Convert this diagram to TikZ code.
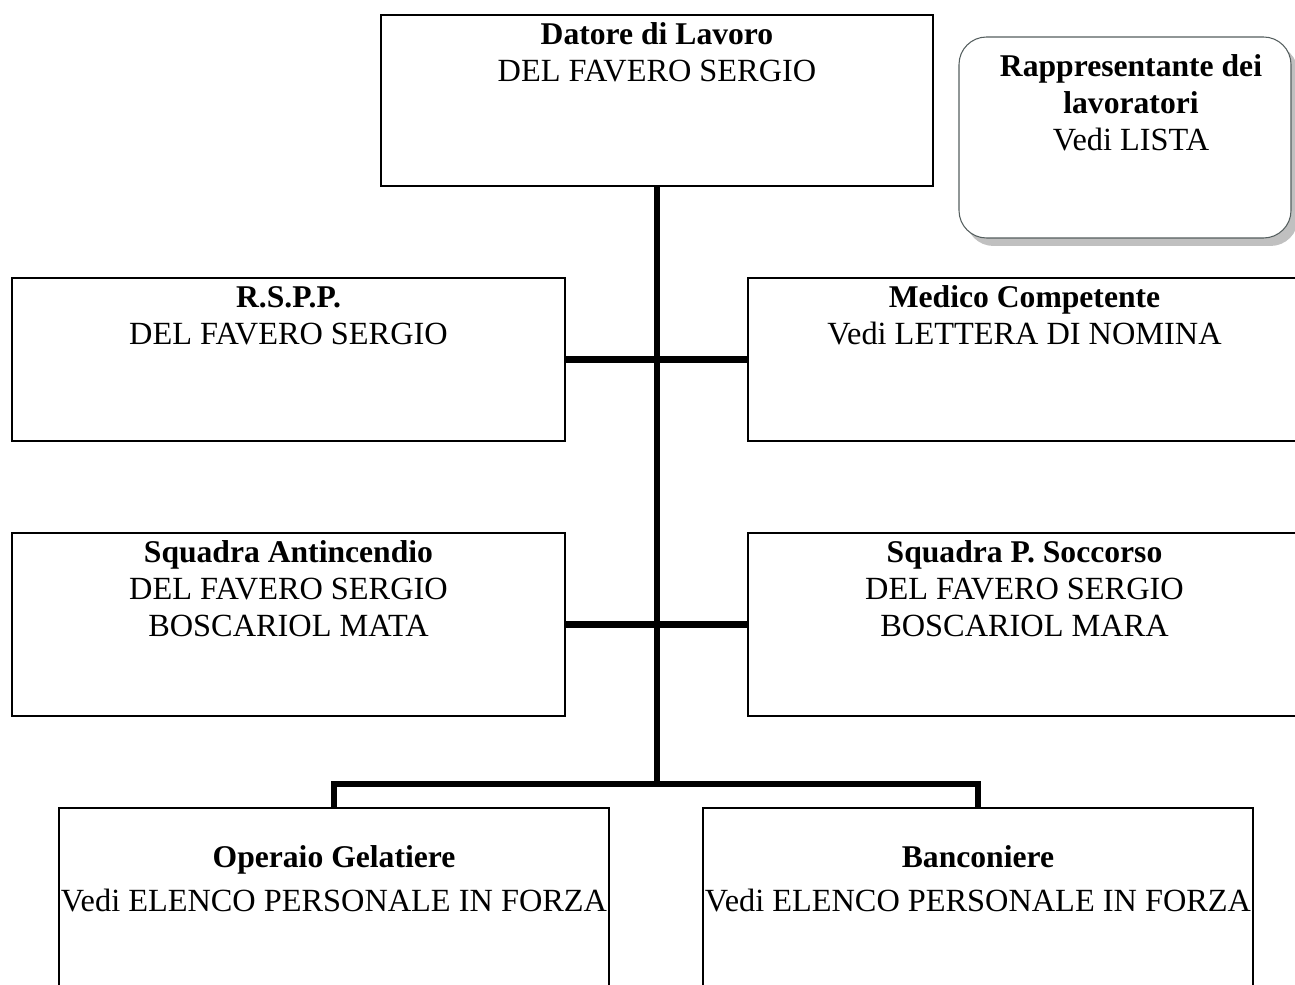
\documentclass[tikz,border=0pt]{standalone}
\usepackage{fontspec}
\setmainfont{Liberation Serif}
\usetikzlibrary{shadows}

\definecolor{repborder}{RGB}{85,95,95}
\definecolor{repshadow}{RGB}{192,192,192}

% text block of a box: width, height, gap above, lines
\newcommand{\boxtext}[4]{\parbox[c][#2][t]{#1}{\centering\vspace*{#3}\strut#4}}
% bold heading line(s) of a box
\newcommand{\boxtitle}[1]{{\fontsize{18}{21}\selectfont\bfseries #1}}

\begin{document}
\begin{tikzpicture}[
    orgbox/.style={
% The shape:
rectangle,
% The border:
      draw=black, line width=0.9pt,
      fill=white,
      inner sep=0pt,
% Font
      font=\fontsize{18.4}{21}\selectfont
    },
    repbox/.style={
      orgbox,
      draw=repborder, line width=0.6pt,
      rounded corners=0.55cm,
      % shadow at the lower right
      drop shadow={shadow xshift=0.14cm, shadow yshift=-0.16cm,
        fill=repshadow, opacity=1}
    },
    link/.style={line width=3.6pt}
  ]
  \useasboundingbox (0,0) rectangle (25.9,-19.7);
  \clip (0,0) rectangle (25.9,-19.7);

  \node [orgbox] (dl) at (13.14,-2.01)
    {\boxtext{11.04cm}{3.42cm}{0.07cm}{\boxtitle{Datore di Lavoro}\\DEL FAVERO SERGIO}};
  \node [repbox] (rl) at (22.5,-2.75)
    {\boxtext{6.64cm}{4.02cm}{0.27cm}{\leftskip=0.24cm plus 1fil
      \boxtitle{Rappresentante dei\\lavoratori}\\Vedi LISTA}};

  \node [orgbox] (rspp) at (5.77,-7.19)
    {\boxtext{11.06cm}{3.26cm}{0.07cm}{\boxtitle{R.S.P.P.}\\DEL FAVERO SERGIO}};
  \node [orgbox] (mc) at (20.49,-7.19)
    {\boxtext{11.06cm}{3.26cm}{0.07cm}{\boxtitle{Medico Competente}\\Vedi LETTERA DI NOMINA}};

  \node [orgbox] (sa) at (5.77,-12.49)
    {\boxtext{11.06cm}{3.66cm}{0.07cm}{\boxtitle{Squadra Antincendio}\\DEL FAVERO SERGIO\\BOSCARIOL MATA}};
  \node [orgbox] (ss) at (20.49,-12.49)
    {\boxtext{11.06cm}{3.66cm}{0.07cm}{\boxtitle{Squadra P. Soccorso}\\DEL FAVERO SERGIO\\BOSCARIOL MARA}};

  \node [orgbox] (og) at (6.68,-17.96)
    {\boxtext{11.0cm}{3.6cm}{0.67cm}{\boxtitle{Operaio Gelatiere}\\[0.14cm]Vedi ELENCO PERSONALE IN FORZA}};
  \node [orgbox] (bc) at (19.56,-17.96)
    {\boxtext{11.0cm}{3.6cm}{0.67cm}{\boxtitle{Banconiere}\\[0.14cm]Vedi ELENCO PERSONALE IN FORZA}};

  % connectors
  \path (dl.south) ++(0,-11.94) coordinate (fork);
  \draw [link] (dl.south) -- (fork);
  \draw [link] (rspp.east) -- (mc.west);
  \draw [link] (sa.east) -- (ss.west);
  \draw [link] (og.north) |- (fork) -| (bc.north);
\end{tikzpicture}
\end{document}
